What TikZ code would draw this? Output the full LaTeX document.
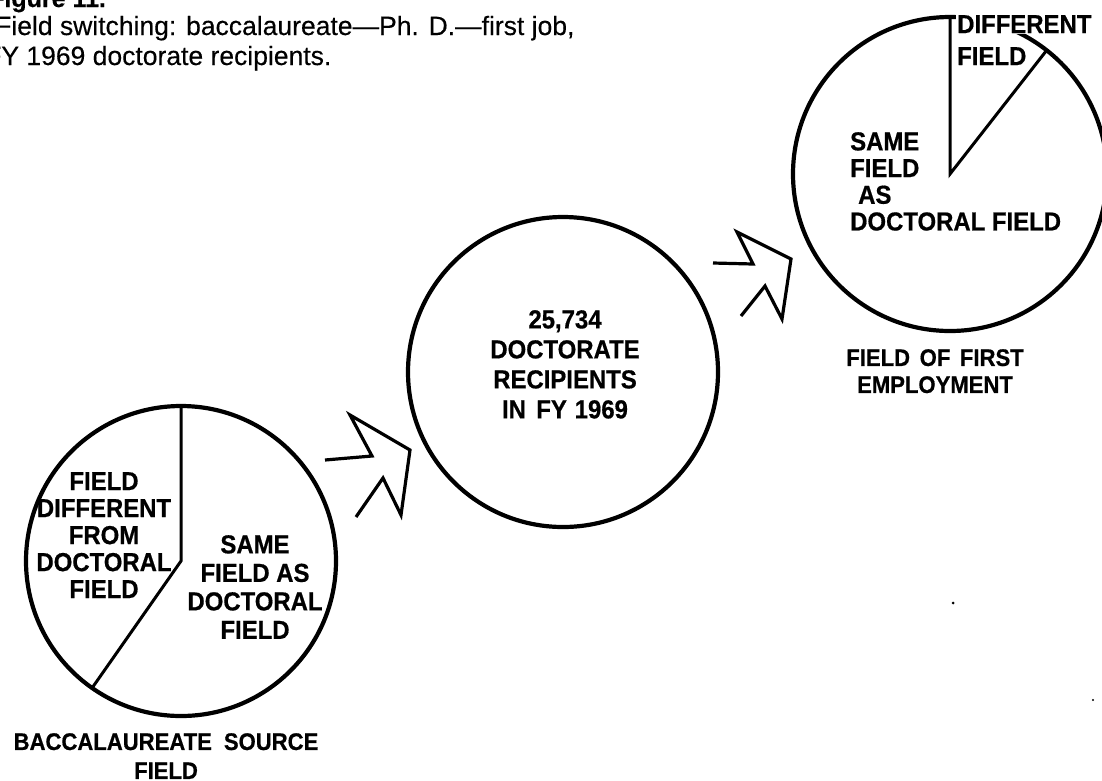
\documentclass[tikz,border=0pt]{standalone}
\usepackage{fontspec}
\setmainfont{Liberation Sans}
\newfontfamily\labfam[FakeStretch=0.92,FakeBold=0.6]{Liberation Sans}
\newfontfamily\ttlfam[FakeBold=0.3,Ligatures=TeX]{Liberation Sans}
\begin{document}
\begin{tikzpicture}[x=1pt,y=-1pt,
  ring/.style={circle, draw, line width=4.2pt, inner sep=0pt, outer sep=0pt, minimum size=#1},
  divider/.style={line width=3pt, line join=miter},
  chevron/.style={line width=3.2pt, line join=miter, miter limit=10},
  lab/.style={font=\labfam\bfseries\fontsize{26}{#1}\selectfont, align=center, inner sep=0pt, anchor=north},
  lab/.default=28,
  caption/.style={font=\labfam\bfseries\fontsize{24}{#1}\selectfont, align=center, inner sep=0pt, anchor=north},
  caption/.default=28,
  ttl/.style={font=\ttlfam\fontsize{26.5}{30}\selectfont, inner sep=0pt, anchor=base west},
  speck/.style={fill=black}]
\useasboundingbox (0,0) rectangle (1102,780);

% title (cut at the page edge as in the reference)
\node[ttl, font=\ttlfam\bfseries\fontsize{25}{30}\selectfont] (h0) at (-11,7) {Figure 11.};
\node[ttl] (h1) at (-5,35) {Field switching: baccalaureate—Ph. D.—first job,};
\node[ttl] (h2) at (-15,65) {FY 1969 doctorate recipients.};

% pies
\node[ring=310pt] (p1) at (181,561) {};
\node[ring=310pt] (p2) at (563,372) {};
\node[ring=314pt] (p3) at (950,174) {};

\draw[divider] (p1.north) -- (p1.center) -- (p1.235.7);
\draw[divider] (p3.north) -- (p3.center) -- (p3.52);

% chevron arrows
\coordinate (a1) at (325,460);
\coordinate (a2) at (372,456);
\coordinate (a3) at (350,415);
\coordinate (a4) at (410,450);
\coordinate (a5) at (401,515);
\coordinate (a6) at (383,478);
\coordinate (a7) at (356,517);
\draw[chevron] (a1) -- (a2) -- (a3) -- (a4) -- (a5) -- (a6) -- (a7);

\coordinate (b1) at (713,263);
\coordinate (b2) at (753,264);
\coordinate (b3) at (737,232);
\coordinate (b4) at (791,259);
\coordinate (b5) at (782,319);
\coordinate (b6) at (765,286);
\coordinate (b7) at (741,316);
\draw[chevron] (b1) -- (b2) -- (b3) -- (b4) -- (b5) -- (b6) -- (b7);

% labels
\node[lab=27] (t1) at (104,472) {FIELD\\DIFFERENT\\FROM\\DOCTORAL\\FIELD};
\node[lab=28.5] (t2) at (255,535) {SAME\\FIELD AS\\DOCTORAL\\FIELD};
\node[lab=30] (t3) at (565,310) {25,734\\DOCTORATE\\RECIPIENTS\\IN\hspace{0.4em}FY\hspace{0.3em}1969};
\node[lab=26.7, align=left, anchor=north west] (t4) at (850,132) {SAME\\FIELD\\\hspace*{8pt}AS\\DOCTORAL FIELD};
\node[lab, anchor=north west, fill=white, inner sep=1pt] (t5) at (956,14) {DIFFERENT};
\node[lab, anchor=north west] (t6) at (957,47) {FIELD};

\node[caption=29] (c1) at (166,733) {BACCALAUREATE\hspace{0.5em}SOURCE\\FIELD};
\node[caption=27] (c3) at (935,349) {FIELD\hspace{0.4em}OF\hspace{0.4em}FIRST\\EMPLOYMENT};

% specks
\fill[speck] (953,603) circle[radius=1.5pt];
\fill[speck] (1093,700) circle[radius=1.2pt];
\end{tikzpicture}
\end{document}
